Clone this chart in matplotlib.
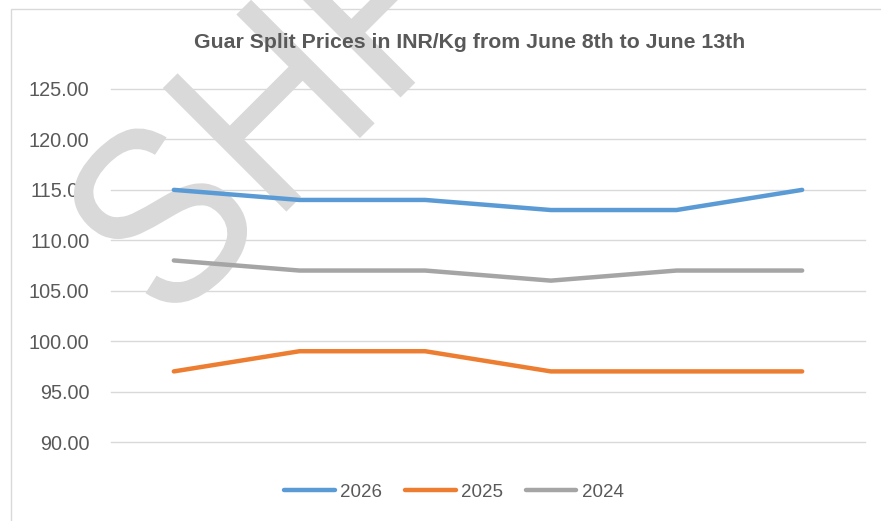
import matplotlib
matplotlib.use("Agg")
import matplotlib.pyplot as plt
from matplotlib.textpath import TextPath
from matplotlib.patches import PathPatch, Rectangle
from matplotlib.font_manager import FontProperties
from matplotlib.transforms import Affine2D, IdentityTransform

# data
days = ["Jun 8", "Jun 9", "Jun 10", "Jun 11", "Jun 12", "Jun 13"]
prices_2026 = [115, 114, 114, 113, 113, 115]
prices_2025 = [97, 99, 99, 97, 97, 97]
prices_2024 = [108, 107, 107, 106, 107, 107]
series_names = ["2026", "2025", "2024"]
y_ticks = [90, 95, 100, 105, 110, 115, 120, 125]

colors = ["#5B9BD5", "#ED7D31", "#A5A5A5"]
text_col = "#595959"
grid_col = "#D9D9D9"

plt.rcParams["font.family"] = ["Liberation Sans", "DejaVu Sans"]

W, H = 881, 521
fig = plt.figure(figsize=(W / 100, H / 100), dpi=100)
fig.patch.set_facecolor("white")

# chart frame (cut off on the right and bottom)
fig.add_artist(Rectangle((11 / W, -0.1), 1.2, 1 - 9 / H + 0.1, transform=fig.transFigure,
                         facecolor="none", edgecolor=grid_col, linewidth=1.0))

ax = fig.add_axes([111 / W, 1 - 442 / H, 754 / W, 353 / H])
ax.set_facecolor("none")

for vals, name, c in zip([prices_2026, prices_2025, prices_2024], series_names, colors):
    ax.plot(days, vals, color=c, linewidth=3.2, solid_capstyle="round",
            solid_joinstyle="round", label=name, zorder=2)

ax.set_xlim(-0.5, len(days) - 0.5)
ax.set_ylim(min(y_ticks), max(y_ticks))
ax.set_yticks(y_ticks)
ax.set_yticklabels([f"{v:.2f}" for v in y_ticks])
ax.set_xticks([])
ax.tick_params(axis="y", length=0, pad=15.5, labelsize=14.3, labelcolor=text_col)
ax.grid(axis="y", color=grid_col, linewidth=1.0, zorder=0.5)
for gl in ax.get_ygridlines():
    gl.set_clip_on(False)
ax.set_axisbelow(True)
for s in ax.spines.values():
    s.set_visible(False)

# watermark
tp = TextPath((0, 0), "SHF", size=254, prop=FontProperties(family="Liberation Sans"))
tr = Affine2D().scale(0.88, 1).rotate_deg(45).translate(168, H - 330)
wm = PathPatch(tr.transform_path(tp), facecolor="#D9D9D9", edgecolor="none",
               transform=IdentityTransform(), zorder=1.5, clip_on=False)
ax.add_artist(wm)

fig.text(470 / W, 1 - 43 / H, "Guar Split Prices in INR/Kg from June 8th to June 13th",
         ha="center", va="center", fontsize=15.3, fontweight="bold", color=text_col, zorder=3)

fig.legend(loc="center", bbox_to_anchor=(454 / W, 1 - 492 / H), ncol=3, frameon=False,
           fontsize=13.5, labelcolor=text_col, handlelength=2.7, handletextpad=0.3,
           columnspacing=1.2)

fig.savefig("out.png", dpi=100)
